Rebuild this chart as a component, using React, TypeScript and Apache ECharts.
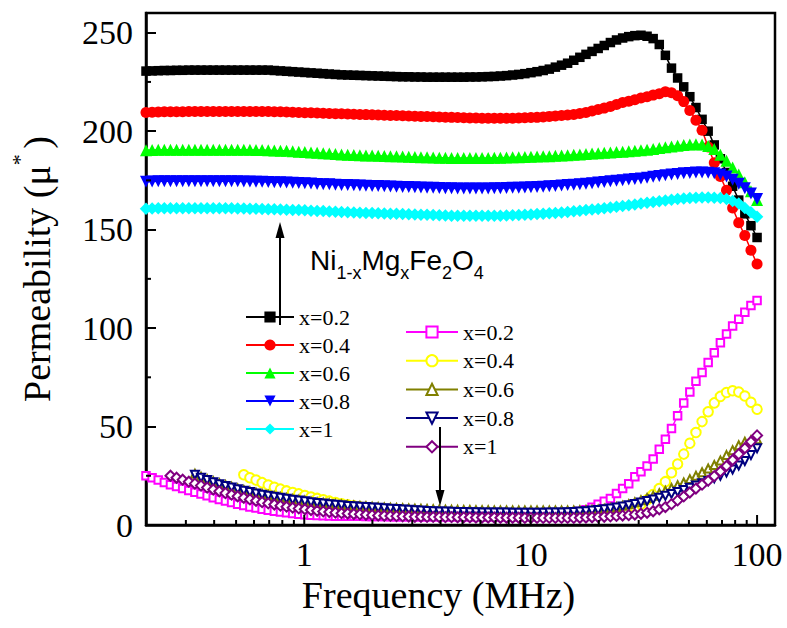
import React, { useEffect, useRef } from 'react';
import * as echarts from 'echarts';

// Frequency sweep (MHz), log-spaced
const freqMHz = [
  0.2, 0.2128, 0.2265, 0.241, 0.2565, 0.2729, 0.2904, 0.3091, 0.3289, 0.35,
  0.3724, 0.3963, 0.4217, 0.4488, 0.4775, 0.5081, 0.5407, 0.5754, 0.6123, 0.6515,
  0.6933, 0.7376, 0.7849, 0.8352, 0.8888, 0.9458, 1.006, 1.071, 1.14, 1.213,
  1.29, 1.373, 1.461, 1.555, 1.655, 1.761, 1.873, 1.994, 2.121, 2.257,
  2.402, 2.556, 2.72, 2.894, 3.08, 3.277, 3.487, 3.711, 3.949, 4.202,
  4.472, 4.758, 5.063, 5.388, 5.733, 6.101, 6.492, 6.908, 7.351, 7.823,
  8.324, 8.858, 9.426, 10.03, 10.67, 11.36, 12.09, 12.86, 13.69, 14.56,
  15.5, 16.49, 17.55, 18.67, 19.87, 21.14, 22.5, 23.94, 25.48, 27.11,
  28.85, 30.7, 32.67, 34.76, 36.99, 39.36, 41.88, 44.57, 47.43, 50.47,
  53.7, 57.15, 60.81, 64.71, 68.86, 73.28, 77.98, 82.98, 88.3, 93.96,
  100,
];

// Real part (filled symbols)
const realX02 = [
  230.5, 230.6, 230.7, 230.8, 230.8, 230.9, 230.9, 231, 231, 231,
  231, 231, 231, 231, 231, 231, 231, 231, 231, 231,
  231, 230.8, 230.6, 230.4, 230.2, 230, 229.8, 229.6, 229.4, 229.2,
  229, 228.8, 228.6, 228.5, 228.4, 228.3, 228.2, 228.1, 228, 227.9,
  227.8, 227.7, 227.6, 227.6, 227.5, 227.5, 227.4, 227.4, 227.4, 227.4,
  227.4, 227.4, 227.4, 227.5, 227.5, 227.6, 227.7, 227.8, 228, 228.2,
  228.5, 228.8, 229.2, 229.7, 230.2, 230.8, 231.5, 232.5, 233.5, 234.5,
  236, 237.5, 239, 240.5, 242, 243.5, 245, 246.3, 247.3, 248,
  248.5, 248.7, 248.2, 247, 244, 238.5, 232, 227, 222.5, 217.5,
  212, 206, 200, 193, 186, 179, 172, 165, 158, 152,
  146,
];
const realX04 = [
  209.5, 209.6, 209.7, 209.8, 209.8, 209.9, 209.9, 210, 210, 210,
  210, 210, 210, 210, 210, 210, 210, 210, 210, 210,
  210, 209.9, 209.8, 209.7, 209.6, 209.5, 209.4, 209.3, 209.2, 209.1,
  209, 208.9, 208.8, 208.7, 208.6, 208.5, 208.4, 208.3, 208.2, 208.1,
  208, 207.9, 207.8, 207.7, 207.6, 207.5, 207.4, 207.3, 207.2, 207.1,
  207, 206.9, 206.8, 206.7, 206.7, 206.6, 206.6, 206.6, 206.6, 206.6,
  206.6, 206.7, 206.8, 206.9, 207, 207.2, 207.5, 207.7, 208, 208.2,
  208.5, 209, 209.5, 210.2, 211, 211.7, 212.5, 213.5, 214.5, 215.2,
  216, 216.8, 217.5, 218.3, 219, 220, 219.5, 218, 215, 210.5,
  205.5, 200.5, 192, 184, 177, 170, 161, 153.5, 147, 139.5,
  132.5,
];
const realX06 = [
  190.3, 190.4, 190.5, 190.5, 190.5, 190.6, 190.6, 190.6, 190.6, 190.6,
  190.6, 190.6, 190.6, 190.6, 190.5, 190.5, 190.5, 190.5, 190.4, 190.4,
  190.3, 190.2, 190.1, 190, 189.8, 189.6, 189.4, 189.2, 189, 188.8,
  188.6, 188.4, 188.2, 188, 187.9, 187.8, 187.7, 187.6, 187.5, 187.4,
  187.3, 187.2, 187.1, 187, 186.9, 186.8, 186.7, 186.6, 186.5, 186.5,
  186.4, 186.4, 186.4, 186.4, 186.4, 186.4, 186.4, 186.5, 186.5, 186.6,
  186.7, 186.8, 186.9, 187, 187.1, 187.2, 187.3, 187.5, 187.6, 187.8,
  188, 188.2, 188.4, 188.6, 188.8, 189, 189.2, 189.4, 189.6, 189.8,
  190, 190.3, 190.6, 191, 191.4, 191.8, 192.2, 192.6, 193, 193.2,
  193.3, 193.2, 192.5, 191, 188, 185, 181.5, 178, 174, 169.5,
  165,
];
const realX08 = [
  174.3, 174.4, 174.5, 174.5, 174.6, 174.6, 174.6, 174.6, 174.6, 174.6,
  174.6, 174.6, 174.6, 174.5, 174.5, 174.5, 174.4, 174.4, 174.3, 174.3,
  174.2, 174.1, 174, 173.9, 173.8, 173.7, 173.5, 173.4, 173.2, 173.1,
  173, 172.8, 172.7, 172.6, 172.5, 172.4, 172.3, 172.2, 172.1, 172,
  171.9, 171.8, 171.7, 171.6, 171.5, 171.4, 171.3, 171.2, 171.1, 171,
  171, 170.9, 170.9, 170.9, 170.9, 170.9, 170.9, 171, 171, 171.1,
  171.2, 171.3, 171.4, 171.5, 171.6, 171.8, 172, 172.2, 172.4, 172.6,
  172.8, 173, 173.3, 173.6, 173.9, 174.2, 174.5, 174.8, 175.1, 175.4,
  175.7, 176, 176.4, 176.8, 177.2, 177.6, 178, 178.3, 178.6, 178.8,
  179, 179, 178.9, 178.6, 178, 177, 175.3, 173.3, 171, 168.3,
  165.5,
];
const realX1 = [
  160.6, 160.7, 160.8, 160.8, 160.9, 160.9, 160.9, 160.9, 160.9, 160.9,
  160.9, 160.9, 160.8, 160.8, 160.8, 160.7, 160.7, 160.6, 160.6, 160.5,
  160.4, 160.3, 160.2, 160.1, 160, 159.9, 159.8, 159.6, 159.5, 159.4,
  159.2, 159.1, 159, 158.8, 158.7, 158.6, 158.5, 158.4, 158.3, 158.2,
  158.1, 158, 157.9, 157.8, 157.7, 157.6, 157.5, 157.4, 157.3, 157.2,
  157.1, 157.1, 157, 157, 157, 157, 157, 157.1, 157.1, 157.2,
  157.3, 157.4, 157.5, 157.7, 157.9, 158.1, 158.3, 158.5, 158.7, 159,
  159.3, 159.6, 159.9, 160.2, 160.5, 160.8, 161.2, 161.6, 162, 162.4,
  162.8, 163.2, 163.6, 164, 164.4, 164.8, 165.2, 165.5, 165.8, 166,
  166.2, 166.3, 166.3, 166.2, 166, 165.5, 164.5, 163.2, 161, 158.8,
  156.5,
];

// Imaginary part (open symbols)
const imagX02 = [
  25, 24, 22.8, 21.6, 20.5, 19.5, 18.5, 17.5, 16.6, 15.8,
  14.8, 13.9, 13, 12.2, 11.4, 10.6, 9.9, 9.2, 8.6, 8,
  7.5, 7, 6.6, 6.2, 5.8, 5.5, 5.2, 5, 4.8, 4.7,
  4.6, 4.5, 4.5, 4.4, 4.4, 4.4, 4.3, 4.3, 4.3, 4.3,
  4.2, 4.2, 4.2, 4.2, 4.2, 4.2, 4.2, 4.2, 4.2, 4.2,
  4.2, 4.2, 4.2, 4.2, 4.2, 4.2, 4.2, 4.2, 4.2, 4.2,
  4.2, 4.2, 4.3, 4.3, 4.4, 4.4, 4.5, 4.7, 5, 5.4,
  6, 6.8, 7.8, 9, 10.5, 12, 13.5, 16, 18.5, 21,
  24.5, 27, 30, 33.5, 38.5, 43.5, 49, 55.5, 62, 67.5,
  73, 77.5, 82.5, 87.5, 92.5, 97, 101, 104.5, 108, 111.5,
  114,
];
const imagX04 = [
  null, null, null, null, null, null, null, null, null, null,
  null, null, null, null, null, null, 25.5, 24, 22.8, 21.5,
  20.3, 19.2, 18.2, 17.3, 16.5, 15.8, 15, 14.2, 13.5, 12.8,
  12.1, 11.4, 10.8, 10.2, 9.7, 9.2, 8.8, 8.4, 8, 7.7,
  7.4, 7.1, 6.9, 6.7, 6.5, 6.3, 6.2, 6.1, 6, 5.9,
  5.9, 5.9, 5.8, 5.8, 5.8, 5.8, 5.8, 5.8, 5.8, 5.8,
  5.8, 5.8, 5.8, 5.8, 5.8, 5.8, 5.8, 5.8, 5.8, 5.8,
  5.9, 5.9, 6, 6, 6.1, 6.2, 6.3, 6.6, 7.1, 7.8,
  8.8, 10.5, 12.8, 15.5, 18.5, 22, 26.5, 31, 36, 41.5,
  47, 52.5, 57.5, 62, 65.3, 67.3, 68.2, 67.5, 65.5, 62.3,
  58.8,
];
const imagX06 = [
  null, null, null, null, null, null, null, null, 26, 24.5,
  23.3, 22.2, 21.2, 20.3, 19.4, 18.6, 17.8, 17.1, 16.4, 15.8,
  15.2, 14.7, 14.2, 13.7, 13.2, 12.8, 12.4, 12, 11.6, 11.3,
  11, 10.7, 10.4, 10.1, 9.9, 9.7, 9.5, 9.3, 9.1, 8.9,
  8.8, 8.6, 8.5, 8.4, 8.3, 8.2, 8.1, 8, 7.9, 7.8,
  7.7, 7.7, 7.6, 7.6, 7.5, 7.5, 7.5, 7.4, 7.4, 7.4,
  7.4, 7.4, 7.4, 7.4, 7.4, 7.4, 7.4, 7.4, 7.4, 7.4,
  7.4, 7.5, 7.6, 7.7, 7.9, 8.2, 8.6, 9.1, 9.8, 10.6,
  11.5, 12.6, 13.7, 14.9, 16.1, 17.4, 18.8, 20.2, 21.6, 23.3,
  25, 26.8, 28.7, 30.5, 32.8, 35.5, 38, 40.5, 42.3, 43,
  43.5,
];
const imagX08 = [
  null, null, null, null, null, null, null, null, 25.5, 24,
  22.8, 21.7, 20.7, 19.8, 19, 18.2, 17.4, 16.7, 16, 15.4,
  14.8, 14.3, 13.8, 13.3, 12.8, 12.4, 12, 11.6, 11.2, 10.9,
  10.6, 10.3, 10, 9.7, 9.5, 9.3, 9.1, 8.9, 8.7, 8.5,
  8.3, 8.1, 7.9, 7.7, 7.5, 7.3, 7.1, 7, 6.9, 6.8,
  6.7, 6.6, 6.6, 6.5, 6.5, 6.4, 6.4, 6.3, 6.3, 6.3,
  6.2, 6.2, 6.2, 6.2, 6.2, 6.2, 6.3, 6.3, 6.4, 6.5,
  6.6, 6.8, 7, 7.3, 7.6, 8, 8.4, 8.9, 9.4, 10,
  10.7, 11.4, 12.2, 13, 13.9, 14.8, 15.8, 16.8, 17.8, 18.9,
  20, 21.2, 22.4, 23.7, 25, 26.6, 28.2, 30.2, 32.5, 35.5,
  39,
];
const imagX1 = [
  null, null, null, null, 25, 24, 23, 22, 21, 20,
  19, 18, 17.1, 16.2, 15.4, 14.6, 13.8, 13, 12.3, 11.6,
  11, 10.4, 9.8, 9.3, 8.8, 8.4, 8, 7.6, 7.2, 6.9,
  6.6, 6.3, 6, 5.8, 5.6, 5.4, 5.2, 5, 4.8, 4.7,
  4.6, 4.5, 4.4, 4.3, 4.2, 4.2, 4.1, 4.1, 4, 4,
  4, 3.9, 3.9, 3.9, 3.8, 3.8, 3.8, 3.8, 3.7, 3.7,
  3.7, 3.7, 3.6, 3.6, 3.6, 3.6, 3.6, 3.6, 3.6, 3.6,
  3.6, 3.7, 3.8, 3.9, 4, 4.2, 4.4, 4.6, 4.8, 5,
  5.3, 5.7, 6.2, 7, 8, 9.1, 10.6, 12.5, 14.5, 16.5,
  18.5, 20.5, 22.5, 24.8, 27.2, 30, 33, 36, 39, 42.3,
  45.5,
];

// Axis ticks
const xTickLabels = [1, 10, 100];
const xMinorTicks = [0.3, 0.4, 0.5, 0.6, 0.7, 0.8, 0.9, 2, 3, 4, 5, 6, 7, 8, 9, 20, 30, 40, 50, 60, 70, 80, 90];
const yTickLabels = [0, 50, 100, 150, 200, 250];
const yMinorTicks = [25, 75, 125, 175, 225];

const X_MIN = 0.2;
const X_MAX = 120;
const Y_MIN = 0;
const Y_MAX = 260;

const SERIF = "'Liberation Serif', 'Times New Roman', serif";
const SANS = "'Liberation Sans', Arial, sans-serif";

const seriesSpecs = [
  { group: 'a', label: 'x=0.2', values: realX02, color: '#000000', symbol: 'rect', size: 9.5, rotate: 0 },
  { group: 'a', label: 'x=0.4', values: realX04, color: '#ff0000', symbol: 'circle', size: 11, rotate: 0 },
  { group: 'a', label: 'x=0.6', values: realX06, color: '#00ff00', symbol: 'triangle', size: 12, rotate: 0 },
  { group: 'a', label: 'x=0.8', values: realX08, color: '#0000ff', symbol: 'triangle', size: 12, rotate: 180 },
  { group: 'a', label: 'x=1', values: realX1, color: '#00ffff', symbol: 'diamond', size: 12.5, rotate: 0 },
  { group: 'b', label: 'x=0.2', values: imagX02, color: '#ff00ff', symbol: 'emptyRect', size: 7.5, rotate: 0 },
  { group: 'b', label: 'x=0.4', values: imagX04, color: '#ffff00', symbol: 'emptyCircle', size: 9.5, rotate: 0 },
  { group: 'b', label: 'x=0.6', values: imagX06, color: '#808000', symbol: 'emptyTriangle', size: 8, rotate: 0 },
  { group: 'b', label: 'x=0.8', values: imagX08, color: '#000080', symbol: 'emptyTriangle', size: 8, rotate: 180 },
  { group: 'b', label: 'x=1', values: imagX1, color: '#800080', symbol: 'emptyDiamond', size: 10, rotate: 0 },
];

const seriesName = (s: { group: string; label: string }) => `${s.group}:${s.label}`;

function tickSeries(kind: 'x' | 'y', values: number[], len: number) {
  return {
    type: 'custom',
    silent: true,
    z: 6,
    clip: false,
    data: values.map((v) => (kind === 'x' ? [v, Y_MIN] : [X_MIN, v])),
    renderItem: (_params: any, api: any) => {
      const p = api.coord([api.value(0), api.value(1)]);
      const shape =
        kind === 'x'
          ? { x1: p[0], y1: p[1], x2: p[0], y2: p[1] - len }
          : { x1: p[0], y1: p[1], x2: p[0] + len, y2: p[1] };
      return { type: 'line', shape, style: { stroke: '#000', lineWidth: 2 } };
    },
  };
}

function buildOption() {
  const lineSeries = seriesSpecs.map((s) => ({
    type: 'line',
    name: seriesName(s),
    data: freqMHz.map((f, i) => [f, s.values[i]]),
    symbol: s.symbol,
    symbolSize: s.size,
    symbolRotate: s.rotate,
    showSymbol: true,
    showAllSymbol: true,
    connectNulls: false,
    itemStyle: { color: s.color, borderWidth: s.group === 'b' ? 1.2 : 0 },
    lineStyle: { color: s.color, width: 1.5 },
    emphasis: { disabled: true },
  }));

  const isLabel = (v: number, list: number[]) => list.some((t) => Math.abs(v - t) <= Math.abs(t) * 1e-6 + 1e-9);

  const legendCommon = {
    orient: 'vertical',
    padding: 0,
    itemHeight: 14,
    selectedMode: false,
    formatter: (name: string) => name.split(':')[1],
    textStyle: { fontSize: 22, fontFamily: SERIF, color: '#000' },
    lineStyle: { width: 2 },
  };

  return {
    animation: false,
    backgroundColor: '#fff',
    grid: {
      left: 146,
      right: 12,
      top: 13,
      bottom: 103,
      show: true,
      borderColor: '#000',
      borderWidth: 2.5,
      backgroundColor: 'transparent',
    },
    legend: [
      {
        ...legendCommon,
        left: 245,
        top: 306,
        itemWidth: 48,
        itemGap: 6,
        data: seriesSpecs.filter((s) => s.group === 'a').map(seriesName),
      },
      {
        ...legendCommon,
        left: 405,
        top: 321,
        itemWidth: 52,
        itemGap: 6.7,
        data: seriesSpecs.filter((s) => s.group === 'b').map(seriesName),
      },
    ],
    xAxis: {
      type: 'log',
      logBase: 10,
      min: X_MIN,
      max: X_MAX,
      name: 'Frequency (MHz)',
      nameLocation: 'middle',
      nameGap: 50,
      nameTextStyle: { fontSize: 38, fontFamily: SERIF, color: '#000', padding: [0, 44, 0, 0] },
      axisLine: { onZero: false, lineStyle: { color: '#000', width: 2.5 } },
      axisTick: { show: false },
      minorTick: { show: false },
      splitLine: { show: false },
      axisLabel: {
        margin: 12,
        fontSize: 34,
        fontFamily: SERIF,
        color: '#000',
        showMinLabel: true,
        showMaxLabel: true,
        formatter: (v: number) => (isLabel(v, xTickLabels) ? String(Math.round(v)) : ''),
      },
    },
    yAxis: {
      type: 'value',
      min: Y_MIN,
      max: Y_MAX,
      interval: 50,
      name: '{a|Permeability (μ}{b|* }{a|)}',
      nameLocation: 'middle',
      nameGap: 80,
      nameTextStyle: {
        color: '#000',
        fontFamily: SERIF,
        fontSize: 38,
        rich: {
          a: { fontSize: 38, fontFamily: SERIF, color: '#000' },
          b: { fontSize: 22, fontFamily: SERIF, color: '#000', padding: [0, 0, 36, 0] },
        },
      },
      axisLine: { onZero: false, lineStyle: { color: '#000', width: 2.5 } },
      axisTick: { show: true, inside: true, length: 10, lineStyle: { color: '#000', width: 2 } },
      minorTick: { show: false },
      splitLine: { show: false },
      axisLabel: {
        margin: 13,
        fontSize: 34,
        fontFamily: SERIF,
        color: '#000',
        formatter: (v: number) => (isLabel(v, yTickLabels) ? String(v) : ''),
      },
    },
    series: [
      ...lineSeries,
      tickSeries('x', xTickLabels, 10),
      tickSeries('x', xMinorTicks, 5),
      tickSeries('y', yMinorTicks, 5),
    ],
    graphic: [
      {
        type: 'text',
        x: 310,
        y: 260,
        z: 10,
        style: {
          text: '{n|Ni}{s|1-x}{n|Mg}{s|x}{n|Fe}{s|2}{n|O}{s|4}',
          verticalAlign: 'middle',
          align: 'left',
          rich: {
            n: { fontSize: 28, fontFamily: SANS, fill: '#000' },
            s: { fontSize: 18, fontFamily: SANS, fill: '#000', padding: [26, 0, 0, 0] },
          },
        },
      },
      {
        type: 'line',
        z: 10,
        shape: { x1: 280, y1: 325, x2: 280, y2: 236 },
        style: { stroke: '#000', lineWidth: 2 },
      },
      {
        type: 'polygon',
        z: 10,
        shape: { points: [[280, 222], [275.5, 238], [284.5, 238]] },
        style: { fill: '#000' },
      },
      {
        type: 'line',
        z: 10,
        shape: { x1: 440, y1: 427, x2: 440, y2: 492 },
        style: { stroke: '#000', lineWidth: 2 },
      },
      {
        type: 'polygon',
        z: 10,
        shape: { points: [[440, 506], [435.5, 490], [444.5, 490]] },
        style: { fill: '#000' },
      },
    ],
  };
}

export default function App() {
  const ref = useRef<HTMLDivElement>(null);
  useEffect(() => {
    if (!ref.current) return;
    const chart = echarts.init(ref.current, null, { renderer: 'svg' });
    chart.setOption(buildOption() as any);
    return () => chart.dispose();
  }, []);
  return (
    <div
      ref={ref}
      style={{ position: 'absolute', left: 0, top: 0, width: 787, height: 628, background: '#fff' }}
    />
  );
}
